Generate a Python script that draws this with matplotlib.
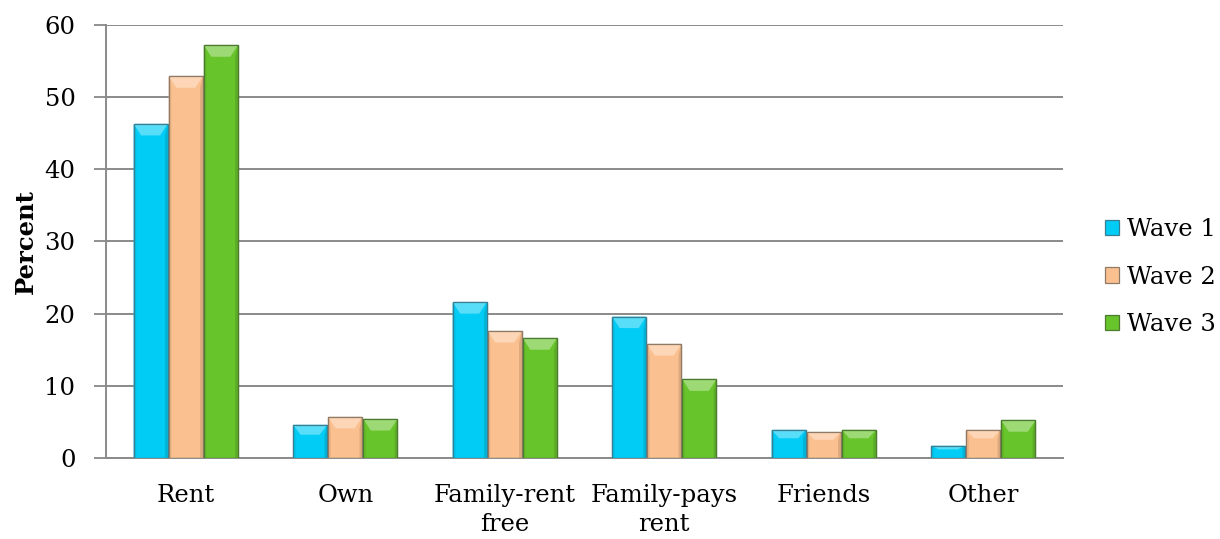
import matplotlib
matplotlib.use("Agg")
import matplotlib.pyplot as plt
from matplotlib.patches import Polygon
from matplotlib.colors import to_rgb
import numpy as np

categories = ["Rent", "Own", "Family-rent\nfree", "Family-pays\nrent", "Friends", "Other"]
series_names = ["Wave 1", "Wave 2", "Wave 3"]
wave1 = [46.3, 4.6, 21.6, 19.6, 3.9, 1.7]
wave2 = [52.9, 5.7, 17.6, 15.8, 3.6, 3.9]
wave3 = [57.2, 5.4, 16.6, 10.9, 3.9, 5.2]
y_ticks = [0, 10, 20, 30, 40, 50, 60]

colors = ["#00CCF5", "#FBC08F", "#68C42B"]
edges = ["#3A7E92", "#8E7A66", "#4C7A30"]

plt.rcParams["font.family"] = ["DejaVu Serif"]
FS = 17.5


def shade(c, f):
    r, g, b = to_rgb(c)
    if f >= 0:
        return (r + (1 - r) * f, g + (1 - g) * f, b + (1 - b) * f)
    return (r * (1 + f), g * (1 + f), b * (1 + f))


fig = plt.figure(figsize=(12.2, 5.39), dpi=100)
ax = fig.add_axes([0.0869, 0.1503, 0.7844, 0.8033])

x = np.arange(len(categories))
width = 0.22
offsets = [-width, 0, width]
for vals, off, c, ec, name in zip([wave1, wave2, wave3], offsets, colors, edges, series_names):
    bars = ax.bar(x + off, vals, width * 0.97, color=c, edgecolor=ec, linewidth=0.9,
                  label=name, zorder=3)
    # bevelled top facet and shaded sides
    for b in bars:
        x0, w, h = b.get_x(), b.get_width(), b.get_height()
        bev_x = w * 0.22
        bev_y = min(1.6, h * 0.3)
        top = Polygon([(x0, h), (x0 + w, h), (x0 + w - bev_x, h - bev_y), (x0 + bev_x, h - bev_y)],
                      closed=True, facecolor=shade(c, 0.35), edgecolor="none", zorder=3.5)
        ax.add_patch(top)
        left = Polygon([(x0, 0), (x0, h), (x0 + w * 0.08, h - bev_y), (x0 + w * 0.08, 0)],
                       closed=True, facecolor=shade(c, -0.06), edgecolor="none", zorder=3.5)
        right = Polygon([(x0 + w, 0), (x0 + w, h), (x0 + w * 0.92, h - bev_y), (x0 + w * 0.92, 0)],
                        closed=True, facecolor=shade(c, -0.12), edgecolor="none", zorder=3.5)
        ax.add_patch(left)
        ax.add_patch(right)
        ax.add_patch(Polygon([(x0, 0), (x0, h), (x0 + w, h), (x0 + w, 0)], closed=True,
                             facecolor="none", edgecolor=ec, linewidth=0.9, zorder=3.6))

ax.set_xlim(-0.5, len(categories) - 0.5)
ax.set_ylim(0, 60)
ax.set_yticks(y_ticks)
ax.set_xticks(x)
ax.set_xticklabels(categories, fontsize=FS, linespacing=1.3)
ax.tick_params(axis="y", labelsize=FS, length=9, width=1.3, color="#888888", pad=13)
ax.tick_params(axis="x", length=0, pad=19)
ax.yaxis.grid(True, color="#8A8A8A", linewidth=1.4, zorder=0)
ax.set_axisbelow(True)
for s in ["top", "right"]:
    ax.spines[s].set_visible(False)
for s in ["left", "bottom"]:
    ax.spines[s].set_color("#8A8A8A")
    ax.spines[s].set_linewidth(1.4)
ax.set_ylabel("Percent", fontsize=FS, fontweight="bold", labelpad=5)

leg = fig.legend(loc="center left", bbox_to_anchor=(0.9055, 0.486), frameon=False,
                 fontsize=FS, handlelength=0.6, handleheight=0.6,
                 handletextpad=0.3, labelspacing=1.0, borderaxespad=0, borderpad=0)
for p, ec in zip(leg.get_patches(), edges):
    p.set_edgecolor(ec)

fig.savefig("out.png", dpi=100)
